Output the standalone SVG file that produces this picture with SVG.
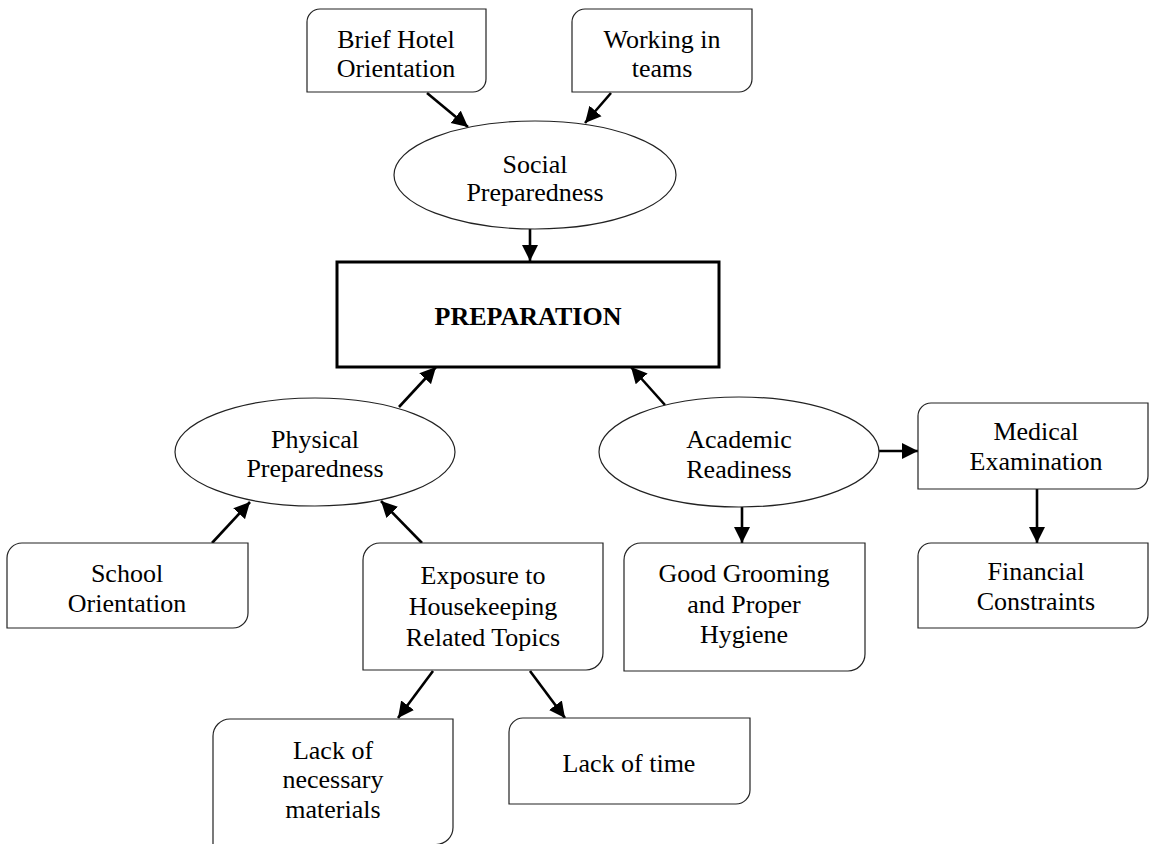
<svg xmlns="http://www.w3.org/2000/svg" width="1151" height="844" viewBox="0 0 1151 844">
  <style>
    .box { fill: #fff; stroke: #222; stroke-width: 1.2; }
    .oval { fill: #fff; stroke: #222; stroke-width: 1.2; }
    .main { fill: #fff; stroke: #000; stroke-width: 3; }
    .lbl { font-family: "Liberation Serif", "Times New Roman", serif; font-size: 26px; fill: #000; text-anchor: middle; }
    .bold { font-weight: bold; }
    .edge { stroke: #000; stroke-width: 2.6; fill: none; marker-end: url(#arrow); }
  </style>
  <defs>
    <marker id="arrow" markerUnits="userSpaceOnUse" markerWidth="17" markerHeight="17" refX="16" refY="8.5" orient="auto">
      <path d="M0,0.5 L16,8.5 L0,16.5 Z" fill="#000"/>
    </marker>
  </defs>
  <rect width="1151" height="844" fill="#fff"/>

  <!-- connectors -->
  <g id="connectors">
    <line class="edge" x1="427" y1="93" x2="468" y2="127"/>
    <line class="edge" x1="611" y1="93" x2="585" y2="123"/>
    <line class="edge" x1="530" y1="229" x2="530" y2="261"/>
    <line class="edge" x1="399" y1="407" x2="436" y2="367"/>
    <line class="edge" x1="665" y1="405" x2="631" y2="367"/>
    <line class="edge" x1="212" y1="543" x2="250" y2="502"/>
    <line class="edge" x1="422" y1="543" x2="381" y2="501"/>
    <line class="edge" x1="879" y1="451" x2="918" y2="451"/>
    <line class="edge" x1="742" y1="507" x2="742" y2="543"/>
    <line class="edge" x1="1037" y1="489" x2="1037" y2="543"/>
    <line class="edge" x1="433" y1="671" x2="398" y2="718"/>
    <line class="edge" x1="530" y1="671" x2="565" y2="718"/>
  </g>

  <g id="brief-hotel-orientation">
    <path class="box" d="M307,22 A13,13 0 0 1 320,9 H486 V79 A13,13 0 0 1 473,92 H307 Z"/>
    <text class="lbl" x="396" y="48">Brief Hotel</text>
    <text class="lbl" x="396" y="77">Orientation</text>
  </g>

  <g id="working-in-teams">
    <path class="box" d="M572,22 A13,13 0 0 1 585,9 H752 V79 A13,13 0 0 1 739,92 H572 Z"/>
    <text class="lbl" x="662" y="48">Working in</text>
    <text class="lbl" x="662" y="77">teams</text>
  </g>

  <g id="social-preparedness">
    <ellipse class="oval" cx="535" cy="175" rx="141" ry="54"/>
    <text class="lbl" x="535" y="173">Social</text>
    <text class="lbl" x="535" y="201">Preparedness</text>
  </g>

  <g id="preparation">
    <rect class="main" x="337" y="262" width="382" height="105"/>
    <text class="lbl bold" x="528" y="325">PREPARATION</text>
  </g>

  <g id="physical-preparedness">
    <ellipse class="oval" cx="315" cy="452" rx="140" ry="54"/>
    <text class="lbl" x="315" y="448">Physical</text>
    <text class="lbl" x="315" y="477">Preparedness</text>
  </g>

  <g id="academic-readiness">
    <ellipse class="oval" cx="739" cy="452" rx="140" ry="55"/>
    <text class="lbl" x="739" y="448">Academic</text>
    <text class="lbl" x="739" y="478">Readiness</text>
  </g>

  <g id="medical-examination">
    <path class="box" d="M918,416 A13,13 0 0 1 931,403 H1148 V476 A13,13 0 0 1 1135,489 H918 Z"/>
    <text class="lbl" x="1036" y="440">Medical</text>
    <text class="lbl" x="1036" y="470">Examination</text>
  </g>

  <g id="school-orientation">
    <path class="box" d="M7,558 A15,15 0 0 1 22,543 H248 V613 A15,15 0 0 1 233,628 H7 Z"/>
    <text class="lbl" x="127" y="582">School</text>
    <text class="lbl" x="127" y="612">Orientation</text>
  </g>

  <g id="exposure-housekeeping">
    <path class="box" d="M363,560 A17,17 0 0 1 380,543 H603 V653 A17,17 0 0 1 586,670 H363 Z"/>
    <text class="lbl" x="483" y="584">Exposure to</text>
    <text class="lbl" x="483" y="615">Housekeeping</text>
    <text class="lbl" x="483" y="646">Related Topics</text>
  </g>

  <g id="good-grooming">
    <path class="box" d="M624,560 A17,17 0 0 1 641,543 H865 V654 A17,17 0 0 1 848,671 H624 Z"/>
    <text class="lbl" x="744" y="582">Good Grooming</text>
    <text class="lbl" x="744" y="613">and Proper</text>
    <text class="lbl" x="744" y="643">Hygiene</text>
  </g>

  <g id="financial-constraints">
    <path class="box" d="M918,556 A13,13 0 0 1 931,543 H1148 V615 A13,13 0 0 1 1135,628 H918 Z"/>
    <text class="lbl" x="1036" y="580">Financial</text>
    <text class="lbl" x="1036" y="610">Constraints</text>
  </g>

  <g id="lack-of-materials">
    <path class="box" d="M213,736 A17,17 0 0 1 230,719 H453 V827.5 A17,17 0 0 1 436,844.5 H213 Z"/>
    <text class="lbl" x="333" y="759">Lack of</text>
    <text class="lbl" x="333" y="788">necessary</text>
    <text class="lbl" x="333" y="818">materials</text>
  </g>

  <g id="lack-of-time">
    <path class="box" d="M509,732 A14,14 0 0 1 523,718 H750 V790 A14,14 0 0 1 736,804 H509 Z"/>
    <text class="lbl" x="629" y="772">Lack of time</text>
  </g>
</svg>
